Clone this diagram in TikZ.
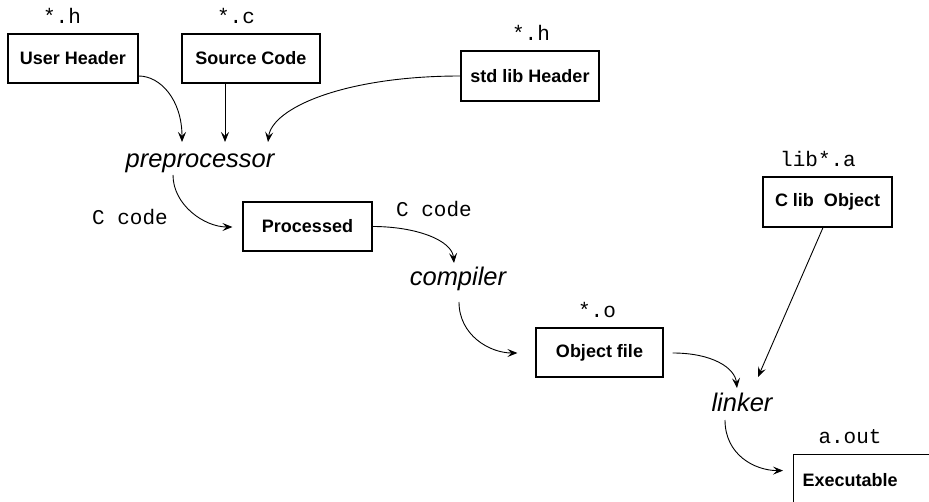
\documentclass[tikz,border=0pt]{standalone}
\usepackage{fontspec}
\setmainfont{Liberation Sans}
\setsansfont{Liberation Sans}
\setmonofont{Liberation Mono}
\usetikzlibrary{calc,arrows.meta}
\begin{document}
\begin{tikzpicture}[x=1pt,y=-1pt,
  box/.style={draw, line width=1.2pt, inner sep=0pt, minimum height=49pt,
    font=\sffamily\bfseries\fontsize{18}{20}\selectfont},
  ftype/.style={anchor=base, inner sep=0pt, font=\ttfamily\fontsize{21}{24}\selectfont},
  tool/.style={anchor=base, inner sep=0pt, font=\sffamily\itshape\fontsize{25.5}{28}\selectfont},
  arr/.style={line width=0.9pt, -{Stealth[length=10pt,width=8pt,inset=4pt]}}]
\useasboundingbox (0,0) rectangle (929,502);

% boxes
\node[box, minimum width=130pt] (uh) at (73,58.5) {User Header};
\node[box, minimum width=138pt] (sc) at (251,58.5) {Source Code};
\node[box, minimum width=138pt, minimum height=50pt] (std) at (530,76) {std lib Header};
\node[box, minimum width=129pt] (proc) at (307.5,226.5) {Processed};
\node[box, minimum width=127pt] (obj) at (599.5,352.5) {Object file};
\node[box, minimum width=129pt, minimum height=50pt] (clib) at (827.5,202) {C lib\ \ Object};
\node[box, anchor=north west, minimum height=50pt, text width=127pt, align=left, inner xsep=9pt] (exe) at (793,454) {Executable};

% file type labels
\node[ftype] (l1) at (62,24) {*.h};
\node[ftype] (l2) at (236,24) {*.c};
\node[ftype] (l3) at (531,41) {*.h};
\node[ftype] (l4) at (130,225) {C code};
\node[ftype] (l5) at (434,217) {C code};
\node[ftype] (l6) at (818,167) {lib*.a};
\node[ftype] (l7) at (597,318) {*.o};
\node[ftype] (l8) at (850,443) {a.out};

% tools
\node[tool] (pre) at (200,168) {preprocessor};
\node[tool] (comp) at (458,286) {compiler};
\node[tool] (link) at (742,412) {linker};

% connectors
\draw[arr] ($(uh.east)+(0,17.5)$) .. controls +(22,0) and +(0,-42) .. ($(pre.base)+(-18,-26)$);
\draw[arr] ($(sc.south)+(-26,0)$) -- ($(pre.base)+(25,-26)$);
\draw[arr] (std.west) .. controls +(-116,0) and +(4,-34) .. ($(pre.base)+(68,-26)$);
\draw[arr] ($(pre.base)+(-27,7)$) .. controls +(0,30) and +(-28,0) .. ($(proc.west)+(-10,0.5)$);
\draw[arr] (proc.east) .. controls +(43,0) and +(-2,-23) .. ($(comp.base)+(-4,-23)$);
\draw[arr] ($(comp.base)+(1,16)$) .. controls +(0,33) and +(-28,0) .. ($(obj.west)+(-18,0.5)$);
\draw[arr] ($(obj.east)+(9,0.5)$) .. controls +(40,0) and +(-2,-20) .. ($(link.base)+(-5,-24)$);
\draw[arr] ($(clib.south)+(-4.5,0)$) -- ($(link.base)+(16,-35)$);
\draw[arr] ($(link.base)+(-17,8)$) .. controls +(0,35) and +(-28,0) .. ($(exe.west)+(-10,-9)$);
\end{tikzpicture}
\end{document}
